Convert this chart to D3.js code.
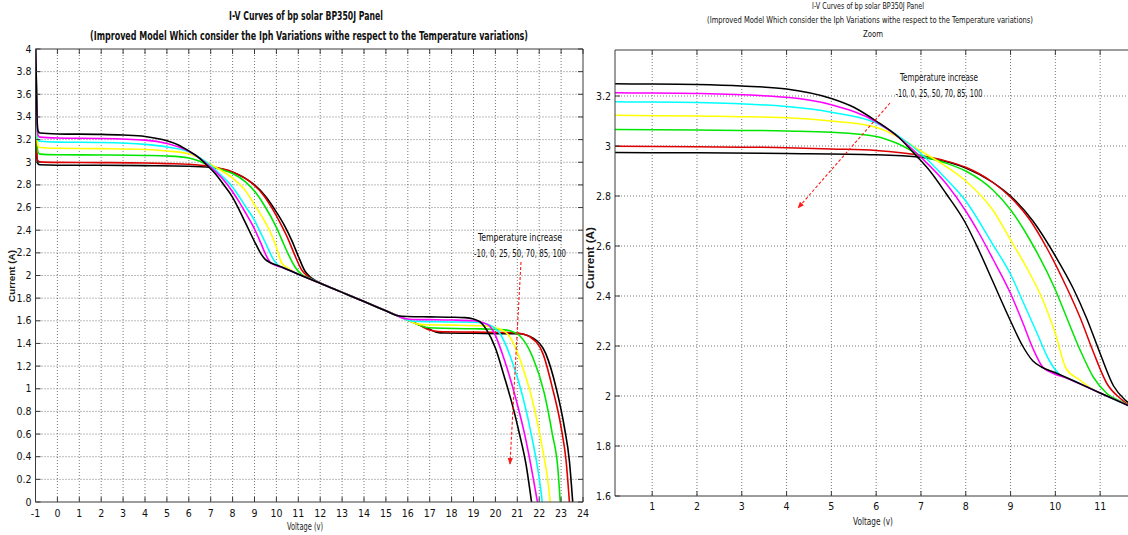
<!DOCTYPE html>
<html><head><meta charset="utf-8">
<script src="https://cdn.jsdelivr.net/npm/d3@7/dist/d3.min.js"></script>
<style>
html,body{margin:0;padding:0;background:#fff;}
svg{display:block;}
</style></head><body>
<svg id="chart" width="1128" height="535"></svg>
<script>
// ---------------- DATA ----------------
const temperaturesC = [-10, 0, 25, 50, 70, 85, 100];
const lineColors = ["#000000", "#dd0000", "#00e600", "#ffff00", "#00ffff", "#ff00ff", "#000000"];

// [Voltage (V), Current (A)] points of each I-V curve
const curveM10 = [[-1.0,4.05],[-0.97,3.5],[-0.94,3.05],[-0.9,2.99],[-0.8,2.978],[0,2.974],[2,2.973],[4,2.97],[6,2.965],[7,2.955],[7.5,2.94],[8,2.912],[8.6,2.855],[9,2.80],[9.5,2.70],[10,2.56],[10.4,2.43],[10.7,2.31],[11,2.17],[11.3,2.04],[11.55,1.985],[11.8,1.955],[12,1.935],[13,1.853],[14,1.771],[15,1.689],[16,1.607],[16.5,1.566],[17,1.525],[17.3,1.50],[17.7,1.492],[19,1.49],[21.1,1.485],[21.4,1.475],[21.7,1.45],[22.3,1.31],[22.77,1.01],[23.15,0.66],[23.38,0.36],[23.53,0]];
const curve0 = [[-1.0,4.05],[-0.97,3.52],[-0.94,3.08],[-0.9,3.015],[-0.8,3.003],[0,2.999],[2,2.997],[4,2.993],[5,2.988],[6,2.982],[7,2.962],[7.5,2.943],[8,2.915],[8.6,2.855],[9,2.795],[9.43,2.705],[9.8,2.595],[10.25,2.435],[10.55,2.315],[10.85,2.175],[11.15,2.05],[11.45,1.99],[11.7,1.958],[12,1.932],[13,1.851],[14,1.77],[15,1.688],[16,1.606],[16.5,1.565],[17,1.518],[17.4,1.505],[19,1.50],[20.9,1.495],[21.2,1.486],[21.56,1.46],[22.17,1.31],[22.6,1.01],[23.0,0.66],[23.23,0.36],[23.38,0]];
const curve25 = [[-1.0,4.05],[-0.96,3.55],[-0.92,3.15],[-0.88,3.085],[-0.8,3.072],[0,3.066],[2,3.064],[4,3.06],[5,3.055],[6,3.038],[6.5,3.008],[7,2.962],[7.5,2.935],[8,2.90],[8.6,2.825],[9,2.745],[9.43,2.625],[10,2.425],[10.25,2.315],[10.55,2.185],[10.85,2.075],[11.15,2.01],[11.5,1.975],[12,1.932],[13,1.851],[14,1.77],[15,1.688],[16,1.606],[16.5,1.565],[16.8,1.543],[17.2,1.536],[19,1.53],[20.4,1.52],[20.7,1.51],[21.1,1.47],[21.7,1.28],[22.24,0.955],[22.6,0.6],[22.85,0.3],[22.96,0]];
const curve50 = [[-1.0,4.05],[-0.96,3.6],[-0.92,3.2],[-0.88,3.145],[-0.8,3.13],[0,3.123],[2,3.12],[4,3.113],[5,3.10],[6,3.075],[6.5,3.035],[7,2.98],[7.5,2.925],[8,2.86],[8.6,2.745],[9,2.625],[9.43,2.49],[9.73,2.38],[10,2.25],[10.24,2.11],[10.54,2.065],[10.8,2.03],[11,2.013],[12,1.932],[13,1.851],[14,1.77],[15,1.688],[16,1.606],[16.4,1.573],[16.8,1.565],[18,1.562],[19.5,1.555],[20.0,1.54],[20.57,1.48],[21.25,1.19],[21.8,0.81],[22.17,0.45],[22.4,0.18],[22.5,0]];
const curve70 = [[-1.0,4.05],[-0.96,3.65],[-0.92,3.26],[-0.88,3.2],[-0.8,3.186],[0,3.178],[2,3.174],[4,3.158],[5,3.135],[6,3.092],[6.5,3.04],[7,2.97],[7.5,2.88],[8,2.78],[8.6,2.607],[9,2.487],[9.27,2.38],[9.57,2.26],[9.87,2.14],[10.09,2.087],[10.4,2.062],[11,2.012],[12,1.932],[13,1.851],[14,1.77],[15,1.688],[15.5,1.647],[15.8,1.622],[16.1,1.601],[16.5,1.595],[18,1.59],[19.3,1.585],[19.7,1.565],[20.2,1.49],[20.8,1.22],[21.25,0.93],[21.7,0.54],[22.0,0.21],[22.14,0]];
const curve85 = [[-1.0,4.05],[-0.96,3.68],[-0.92,3.3],[-0.88,3.235],[-0.8,3.222],[0,3.214],[2,3.21],[4,3.195],[5,3.165],[6,3.097],[6.5,3.035],[7,2.955],[7.56,2.85],[8,2.74],[8.3,2.65],[8.6,2.55],[9,2.41],[9.28,2.29],[9.5,2.19],[9.72,2.115],[9.9,2.095],[10.3,2.068],[11,2.012],[12,1.932],[13,1.851],[14,1.77],[15,1.688],[15.5,1.647],[15.8,1.622],[16.2,1.612],[17,1.61],[18,1.607],[19,1.60],[19.4,1.585],[19.7,1.56],[19.9,1.51],[20.4,1.26],[20.95,0.90],[21.4,0.54],[21.7,0.24],[21.92,0]];
const curve100 = [[-1.0,4.05],[-0.96,3.72],[-0.92,3.35],[-0.88,3.275],[-0.8,3.258],[0,3.25],[2,3.246],[3,3.24],[4,3.228],[5,3.19],[5.5,3.155],[6,3.10],[6.5,3.035],[6.9,2.96],[7.2,2.90],[7.56,2.81],[8,2.69],[8.3,2.58],[8.6,2.46],[9,2.30],[9.27,2.20],[9.5,2.14],[9.7,2.115],[10,2.093],[11,2.012],[12,1.932],[13,1.851],[14,1.77],[15,1.688],[15.5,1.647],[16,1.638],[17,1.635],[18,1.632],[18.6,1.628],[19.0,1.615],[19.3,1.59],[19.6,1.52],[20.0,1.36],[20.4,1.11],[20.8,0.84],[21.1,0.60],[21.4,0.33],[21.65,0]];

const allCurves = [curveM10, curve0, curve25, curve50, curve70, curve85, curve100];

// tick values
const leftXTicks = [-1,0,1,2,3,4,5,6,7,8,9,10,11,12,13,14,15,16,17,18,19,20,21,22,23,24];
const leftYTicks = [0,0.2,0.4,0.6,0.8,1,1.2,1.4,1.6,1.8,2,2.2,2.4,2.6,2.8,3,3.2,3.4,3.6,3.8,4];
const rightXTicks = [1,2,3,4,5,6,7,8,9,10,11,12];
const rightYTicks = [1.6,1.8,2,2.2,2.4,2.6,2.8,3,3.2];

// texts
const mainTitle = "I-V Curves of bp solar BP350J Panel";
const subTitle = "(Improved Model Which consider the Iph Variations withe respect to the Temperature variations)";
const zoomTitle = "Zoom";
const xLabel = "Voltage (v)";
const yLabel = "Current (A)";
const annotLine1 = "Temperature increase";
const annotLine2 = "-10, 0, 25, 50, 70, 85, 100";

// ---------------- DRAWING ----------------
const FONT = '"Liberation Sans Narrow","Arial Narrow","DejaVu Sans Condensed",sans-serif';
const svg = d3.select("#chart");
const defs = svg.append("defs");
defs.append("marker").attr("id","arrowHead").attr("viewBox","0 0 10 10")
  .attr("refX",9).attr("refY",5).attr("markerWidth",6).attr("markerHeight",6)
  .attr("orient","auto").append("path").attr("d","M0,1 L10,5 L0,9 Z").attr("fill","#ff1a1a");

function fmt(v){ return String(v); }

function drawPanel(cfg, id){
  const x = d3.scaleLinear().domain(cfg.xDomain).range(cfg.xRange);
  const y = d3.scaleLinear().domain(cfg.yDomain).range(cfg.yRange);
  const x0 = cfg.xRange[0], y0 = cfg.yRange[0], y1 = cfg.yRange[1];
  const g = svg.append("g");
  defs.append("clipPath").attr("id","clip"+id).append("rect")
    .attr("x",x0).attr("y",y1).attr("width",cfg.xRange[1]-x0).attr("height",y0-y1);

  // grid
  const grid = g.append("g").attr("stroke","#555").attr("stroke-width",0.8).attr("stroke-dasharray","1,2");
  grid.selectAll("line.vx").data(cfg.xTicks.filter(t=>t>cfg.xDomain[0] && t<cfg.xDomain[1])).join("line")
    .attr("x1",d=>x(d)).attr("x2",d=>x(d)).attr("y1",y1).attr("y2",y0);
  grid.selectAll("line.hy").data(cfg.yTicks.filter(t=>t>cfg.yDomain[0] && t<cfg.yDomain[1])).join("line")
    .attr("class","hy").attr("x1",x0).attr("x2",cfg.xRange[1]).attr("y1",d=>y(d)).attr("y2",d=>y(d));

  // curves
  const line = d3.line().x(d=>x(d[0])).y(d=>y(d[1])).curve(d3.curveMonotoneX);
  const cg = g.append("g").attr("clip-path","url(#clip"+id+")");
  cg.selectAll("path").data(allCurves).join("path")
    .attr("d", line).attr("fill","none")
    .attr("stroke",(d,i)=>lineColors[i]).attr("stroke-width",cfg.lw)
    .attr("stroke-linejoin","round");

  // box
  const box = g.append("g").attr("stroke","#3a3a3a").attr("stroke-width",1).attr("fill","none");
  box.append("line").attr("x1",x0).attr("x2",x0).attr("y1",y1).attr("y2",y0);
  box.append("line").attr("x1",x0).attr("x2",cfg.xRange[1]).attr("y1",y0).attr("y2",y0);
  box.append("line").attr("x1",x0).attr("x2",cfg.xRange[1]).attr("y1",y1).attr("y2",y1);
  if (cfg.xRange[1] <= 1128) box.append("line").attr("x1",cfg.xRange[1]).attr("x2",cfg.xRange[1]).attr("y1",y1).attr("y2",y0);
  // inward ticks
  const tl = 5;
  cfg.xTicks.forEach(t=>{
    box.append("line").attr("x1",x(t)).attr("x2",x(t)).attr("y1",y0).attr("y2",y0-tl);
    box.append("line").attr("x1",x(t)).attr("x2",x(t)).attr("y1",y1).attr("y2",y1+tl);
  });
  cfg.yTicks.forEach(t=>{
    box.append("line").attr("x1",x0).attr("x2",x0+tl).attr("y1",y(t)).attr("y2",y(t));
    if (cfg.xRange[1] <= 1128) box.append("line").attr("x1",cfg.xRange[1]).attr("x2",cfg.xRange[1]-tl).attr("y1",y(t)).attr("y2",y(t));
  });

  // tick labels
  g.append("g").selectAll("text").data(cfg.xTicks.filter(t=>x(t)<1124)).join("text")
    .attr("x",d=>x(d)).attr("y",y0+cfg.xLabOff).attr("text-anchor","middle")
    .attr("font-family",FONT).attr("font-size",cfg.tickFs).attr("fill","#111").text(fmt);
  g.append("g").selectAll("text").data(cfg.yTicks).join("text")
    .attr("x",x0-4).attr("y",d=>y(d)+3.5).attr("text-anchor","end")
    .attr("font-family",FONT).attr("font-size",cfg.tickFs).attr("fill","#111").text(fmt);

  // axis labels
  g.append("text").attr("x",cfg.xLabX).attr("y",cfg.xLabY).attr("text-anchor","middle")
    .attr("font-family",FONT).attr("font-size",cfg.axFs).attr("fill","#1a1a1a")
    .attr("textLength",cfg.xLabW).attr("lengthAdjust","spacingAndGlyphs").text(xLabel);
  g.append("text").attr("transform",`translate(${cfg.yLabX},${cfg.yLabY}) rotate(-90)`)
    .attr("text-anchor","middle").attr("font-family","Arial, 'Liberation Sans', sans-serif")
    .attr("font-weight","bold").attr("font-size",cfg.yAxFs).attr("fill","#1a1a1a")
    .attr("textLength",cfg.yLabW).attr("lengthAdjust","spacingAndGlyphs").text(yLabel);

  // titles
  cfg.titles.forEach(t=>{
    g.append("text").attr("x",t.x).attr("y",t.y).attr("text-anchor","middle")
      .attr("font-family",FONT).attr("font-weight",t.bold?"bold":"normal")
      .attr("font-size",t.fs).attr("fill","#111")
      .attr("textLength",t.w).attr("lengthAdjust","spacingAndGlyphs").text(t.text);
  });

  // annotation
  const a = cfg.annot;
  g.append("text").attr("x",a.x).attr("y",a.y1).attr("text-anchor","middle")
    .attr("font-family",FONT).attr("font-size",a.fs).attr("fill","#111")
    .attr("textLength",a.w1).attr("lengthAdjust","spacingAndGlyphs").text(annotLine1);
  g.append("text").attr("x",a.x).attr("y",a.y2).attr("text-anchor","middle")
    .attr("font-family",FONT).attr("font-size",a.fs).attr("fill","#111")
    .attr("textLength",a.w2).attr("lengthAdjust","spacingAndGlyphs").text(annotLine2);
  g.append("line").attr("x1",a.ax1).attr("y1",a.ay1).attr("x2",a.ax2).attr("y2",a.ay2)
    .attr("stroke","#ff1a1a").attr("stroke-width",1.1).attr("stroke-dasharray","3,2")
    .attr("marker-end","url(#arrowHead)");
}

drawPanel({
  xDomain:[-1,24], xRange:[35.5,583], yDomain:[0,4], yRange:[502,49],
  xTicks:leftXTicks, yTicks:leftYTicks, lw:1.6, tickFs:10.5, xLabOff:15,
  axFs:10, xLabX:305, xLabY:530, xLabW:36,
  yAxFs:9.5, yLabX:15, yLabY:276, yLabW:52,
  titles:[
    {text:mainTitle, x:306, y:20, fs:11.5, bold:true, w:154},
    {text:subTitle, x:309, y:40, fs:11.5, bold:true, w:438}
  ],
  annot:{x:520, y1:241, y2:257, fs:10.5, w1:84, w2:92, ax1:521, ay1:262, ax2:510, ay2:464}
}, "L");

drawPanel({
  xDomain:[0.17,12.2], xRange:[615,1153.9], yDomain:[1.6,3.384], yRange:[496,50],
  xTicks:rightXTicks, yTicks:rightYTicks, lw:1.5, tickFs:10.5, xLabOff:14,
  axFs:10, xLabX:873, xLabY:525, xLabW:40,
  yAxFs:10, yLabX:594, yLabY:258, yLabW:62,
  titles:[
    {text:mainTitle, x:868, y:9, fs:9.5, bold:false, w:112},
    {text:subTitle, x:870, y:22.5, fs:9.5, bold:false, w:326},
    {text:zoomTitle, x:873, y:37, fs:9.5, bold:false, w:20}
  ],
  annot:{x:939, y1:81, y2:97, fs:11, w1:78, w2:87, ax1:890, ay1:103, ax2:798, ay2:208}
}, "R");
</script>
</body></html>
